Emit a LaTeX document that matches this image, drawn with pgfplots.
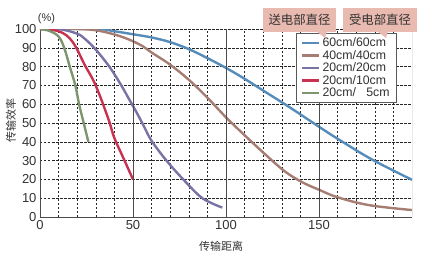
\documentclass[border=0pt]{standalone}
\usepackage{fontspec}
\setmainfont{Liberation Sans}
\newfontfamily\cjk{Noto Sans CJK SC}
\usepackage{pgfplots}
\pgfplotsset{compat=1.18}
\definecolor{cblue}{RGB}{86,140,185}
\definecolor{cbrown}{RGB}{165,125,115}
\definecolor{cpurple}{RGB}{120,115,165}
\definecolor{cred}{RGB}{200,50,80}
\definecolor{cgreen}{RGB}{125,150,110}
\definecolor{cpink}{RGB}{232,186,176}
\definecolor{ctext}{RGB}{50,50,50}
\begin{document}
\begin{tikzpicture}
\begin{axis}[
  scale only axis, width=372pt, height=188pt,
  at={(0,0)}, anchor=south west,
  xmin=0, xmax=200, ymin=0, ymax=100,
  axis x line*=bottom, axis y line*=left,
  axis line style={black!70, line width=0.8pt},
  xtick={0,50,100,150}, ytick={0,10,...,100},
  minor xtick={10,20,30,40,60,70,80,90,110,120,130,140,160,170,180,190},
  major tick length=0pt, minor tick length=0pt,
  xmajorgrids, xminorgrids, ymajorgrids,
  major grid style={black!85, dash pattern=on 2.5pt off 1.5pt, line width=0.55pt},
  minor grid style={black!85, dash pattern=on 2.5pt off 1.5pt, line width=0.55pt},
  tick label style={font=\fontsize{13}{14}\selectfont, text=ctext},
  /pgf/number format/assume math mode=true,
  legend cell align=left,
  legend style={at={(0.688,0.977)}, anchor=north west, draw=black!65, fill=white,
    font=\fontsize{12.3}{13}\selectfont, text=ctext, row sep=-2pt, inner xsep=5pt, inner ysep=2.5pt},
  legend image code/.code={\draw[#1, line width=2.4pt] (0pt,0pt) -- (17pt,0pt);},
  every axis plot/.append style={line width=2.4pt, line join=round},
]
\addplot[cblue, smooth, tension=0.6] coordinates {(0,100)(30,100)(40,98.8)(50,97.2)(60,95.5)(70,93)(80,89.3)(90,84.5)(100,79.3)(110,73.5)(122,66)(134,58.5)(150,48)(161,41)(179,30.3)(200,19.8)};
\addlegendentry{60cm/60cm}
\addplot[cbrown, smooth, tension=0.6] coordinates {(0,100)(20,100)(32,99)(45,95.5)(55,91)(60,87.5)(70,81)(80,73)(90,63.5)(100,53)(110,43.5)(122,32.5)(132,24)(141,18.5)(150,14.5)(160,10.5)(177,6.3)(200,3.7)};
\addlegendentry{40cm/40cm}
\addplot[cpurple, smooth, tension=0.6] coordinates {(0,100)(10,100)(20,97.5)(25,94)(30,89)(35,83)(39,77.5)(44,69.5)(48,62.5)(52,55.5)(56,48)(60,40.5)(68,30)(77,20)(86,11)(92,7.5)(98,5)};
\addlegendentry{20cm/20cm}
\addplot[cred, smooth, tension=0.6] coordinates {(0,100)(7,99.5)(12,98)(16,95)(19.5,90)(24,81)(28.5,73)(32,65)(35,57)(37.5,50)(40,42)(45,31)(50,20)};
\addlegendentry{20cm/10cm}
\addplot[cgreen, smooth, tension=0.6] coordinates {(0,100)(5,99)(10,96)(13,90)(16,80)(19,70)(21,60)(23.5,50)(26,40)};
\addlegendentry{20cm/\phantom{1}\ 5cm}
\draw[black!70, line width=0.8pt] (axis cs:50,0) -- (axis cs:50,100);
\draw[black!70, line width=0.8pt] (axis cs:100,0) -- (axis cs:100,100);
\draw[black!70, line width=0.8pt] (axis cs:150,0) -- (axis cs:150,100);
\draw[black!70, line width=0.8pt] (axis cs:200,0) -- (axis cs:200,100);
\end{axis}
% callout labels
\fill[cpink] (276pt,186pt) -- (287pt,186pt) -- (285pt,179pt) -- cycle;
\fill[cpink] (337pt,186pt) -- (348pt,186pt) -- (346pt,179pt) -- cycle;
\node[fill=cpink, minimum width=73pt, minimum height=24pt, inner sep=0pt, font=\cjk\fontsize{12.4}{14}\selectfont, text=ctext] at (259.5pt,197pt) {送电部直径};
\node[fill=cpink, minimum width=74pt, minimum height=24pt, inner sep=0pt, font=\cjk\fontsize{12.4}{14}\selectfont, text=ctext] at (340pt,197pt) {受电部直径};
\node[font=\fontsize{11}{12}\selectfont, text=ctext] at (6.5pt,198pt) {(\%)};
\node[rotate=90, font=\cjk\fontsize{11}{12}\selectfont, text=ctext] at (-29pt,97pt) {传输效率};
\node[font=\cjk\fontsize{11}{12}\selectfont, text=ctext] at (181pt,-29pt) {传输距离};
\pgfresetboundingbox
\path[use as bounding box] (-40pt,-38pt) rectangle (390pt,217pt);
\end{tikzpicture}
\end{document}
